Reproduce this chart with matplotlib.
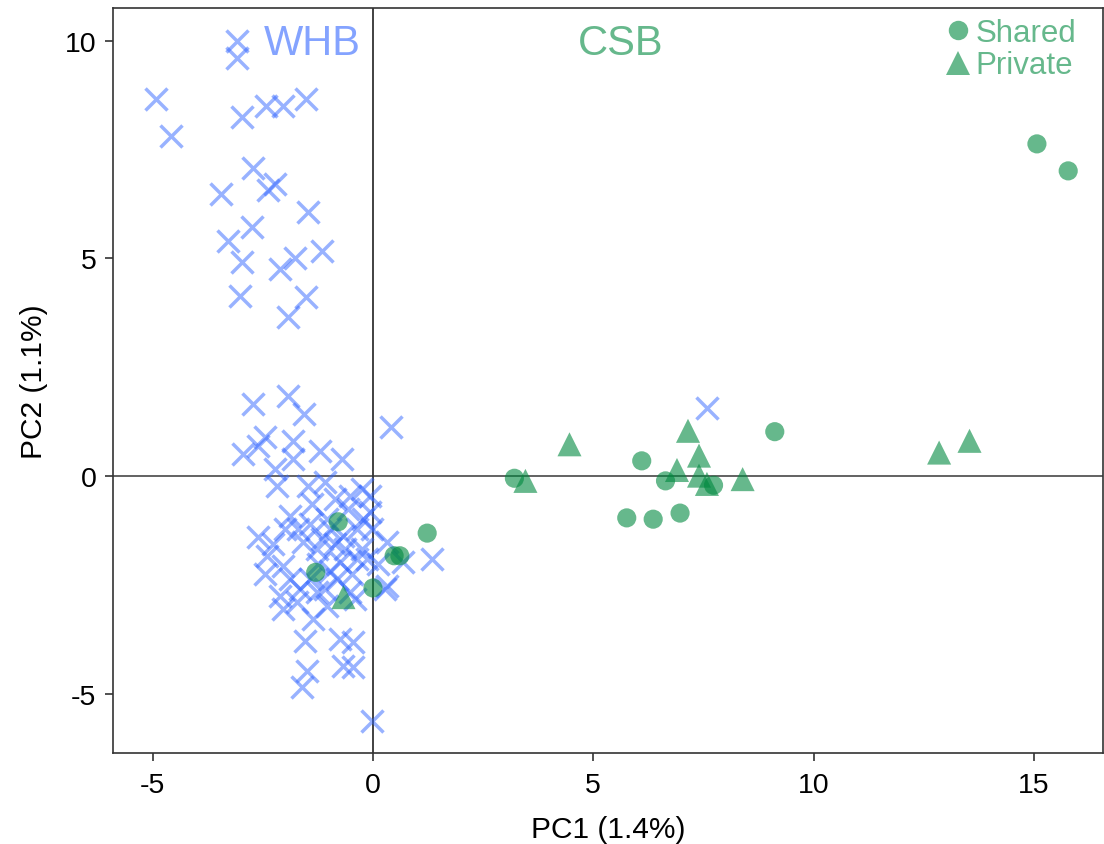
import matplotlib
matplotlib.use("Agg")
import matplotlib.pyplot as plt
from matplotlib.lines import Line2D

plt.rcParams['font.family'] = ['Liberation Sans', 'DejaVu Sans']

# WHB samples (crosses)
whb_x = [-3.09, -3.09, -4.93, -4.59, -2.97, -2.43, -2.04, -1.52, -2.72, -2.38,
         -2.22, -3.45, -1.47, -2.74, -3.29, -2.97, -2.11, -1.77, -1.16, -3.02,
         -1.52, -1.93,
         -2.72, -1.93, -1.56, 0.41, 7.58, -2.45, -2.95, -2.61, -1.81, -1.81,
         -1.20, -0.70, -2.22, -2.18, -1.47, -1.09, -0.52, -0.07, -1.88, -1.04,
         -0.23, -0.07, -2.61, -2.27, -1.59, -1.27, -0.68, -0.36, 0.32, -2.40,
         -2.04, -1.43, -0.75, -0.82, -0.14, 0.68, 1.34, -2.11, -1.72, -1.27,
         -1.04, 0.32, -0.52, -1.36, -1.54, -0.75, -0.45, -0.68, -1.50, -1.61,
         -0.45, -0.02, -0.86, -0.57, -0.36, -0.98, -1.43, -1.70, -1.25, -0.98,
         -0.48, -1.88, -1.09, -1.66, -0.25, -0.02, -0.63, -1.38, 0.11, -2.00,
         -0.25, -0.41, -2.45, -0.86, -1.16, 0.27, -2.04]
whb_y = [9.99, 9.60, 8.66, 7.81, 8.25, 8.50, 8.50, 8.66, 7.07, 6.58,
         6.70, 6.47, 6.06, 5.71, 5.39, 4.91, 4.75, 5.02, 5.16, 4.13,
         4.11, 3.65,
         1.65, 1.84, 1.42, 1.12, 1.56, 0.89, 0.50, 0.69, 0.80, 0.39,
         0.57, 0.39, 0.16, -0.23, -0.23, -0.14, -0.46, -0.46, -0.92, -0.99,
         -0.99, -0.83, -1.40, -1.56, -1.51, -1.67, -1.38, -1.90, -1.51, -1.83,
         -2.06, -2.36, -1.97, -2.36, -1.90, -1.97, -1.90, -2.75, -2.89, -2.66,
         -2.98, -2.52, -2.66, -3.28, -3.78, -3.74, -3.81, -4.36, -4.47, -4.84,
         -4.38, -5.62, -0.53, -0.76, -1.22, -1.22, -1.10, -1.22, -2.02, -2.18,
         -2.25, -2.36, -2.59, -2.59, -1.67, -1.22, -1.67, -0.64, -2.02, -1.22,
         -0.30, -2.82, -2.25, -1.56, -1.45, -2.59, -3.05]

# CSB shared (circles)
shared_x = [15.07, 15.78, 9.12, 6.10, 6.64, 7.73, 3.21, 5.76, 6.36, 6.97,
            1.23, -0.79, 0.48, 0.61, -1.30, 0.00]
shared_y = [7.63, 7.01, 1.02, 0.35, -0.11, -0.21, -0.05, -0.96, -0.99, -0.85,
            -1.31, -1.05, -1.83, -1.83, -2.21, -2.57]

# CSB private (triangles)
private_x = [3.46, 4.46, 7.15, 7.40, 6.90, 7.40, 7.58, 8.39, 12.85, 13.54, -0.67]
private_y = [-0.11, 0.73, 1.04, 0.47, 0.14, 0.01, -0.18, -0.07, 0.54, 0.81, -2.78]

x_ticks = [-5, 0, 5, 10, 15]
y_ticks = [-5, 0, 5, 10]
x_label = "PC1 (1.4%)"
y_label = "PC2 (1.1%)"

blue = '#3366FF'
green = '#00893F'

fig = plt.figure(figsize=(11.04, 8.45), dpi=100)
ax = fig.add_axes([0.1024, 0.1077, 0.8967, 0.8816])

ax.axhline(0, color='#555555', lw=1.3, zorder=1)
ax.axvline(0, color='#333333', lw=1.3, zorder=1)

ax.plot(whb_x, whb_y, linestyle='none', marker='x', markersize=16,
        markeredgewidth=2.5, color=blue, alpha=0.5, zorder=3)
ax.scatter(shared_x, shared_y, marker='o', s=190, color=green, alpha=0.6,
           edgecolors='none', zorder=4)
ax.scatter(private_x, private_y, marker='^', s=300, color=green, alpha=0.6,
           edgecolors='none', zorder=4)

ax.text(-1.38, 9.95, "WHB", color=blue, alpha=0.6, fontsize=30,
        ha='center', va='center')
ax.text(5.63, 9.95, "CSB", color=green, alpha=0.6, fontsize=30,
        ha='center', va='center')

handles = [Line2D([], [], marker='o', linestyle='none', markersize=14,
                  color=green, alpha=0.6, markeredgewidth=0),
           Line2D([], [], marker='^', linestyle='none', markersize=17,
                  color=green, alpha=0.6, markeredgewidth=0)]
leg = ax.legend(handles, ["Shared", "Private"], loc='upper right',
                bbox_to_anchor=(0.995, 1.016), frameon=False, fontsize=22.5,
                handletextpad=-0.15, labelspacing=0.08, borderaxespad=0.3,
                handlelength=1.4)
for t in leg.get_texts():
    t.set_color(green)
    t.set_alpha(0.6)

ax.set_xlim(-5.90, 16.57)
ax.set_ylim(-6.36, 10.75)
ax.set_xticks(x_ticks)
ax.set_xticklabels([str(v) for v in x_ticks])
ax.set_yticks(y_ticks)
ax.set_yticklabels([str(v) for v in y_ticks])
ax.tick_params(labelsize=20.5, length=6, width=1.2, colors='#333333',
               labelcolor='black')
ax.tick_params(axis='x', pad=8)
ax.tick_params(axis='y', pad=6)
for s in ax.spines.values():
    s.set_color('#333333')
    s.set_linewidth(1.2)

ax.set_xlabel(x_label, fontsize=21.5, labelpad=12)
ax.set_ylabel(y_label, fontsize=21.5, labelpad=12)

fig.savefig("out.png", dpi=100)
